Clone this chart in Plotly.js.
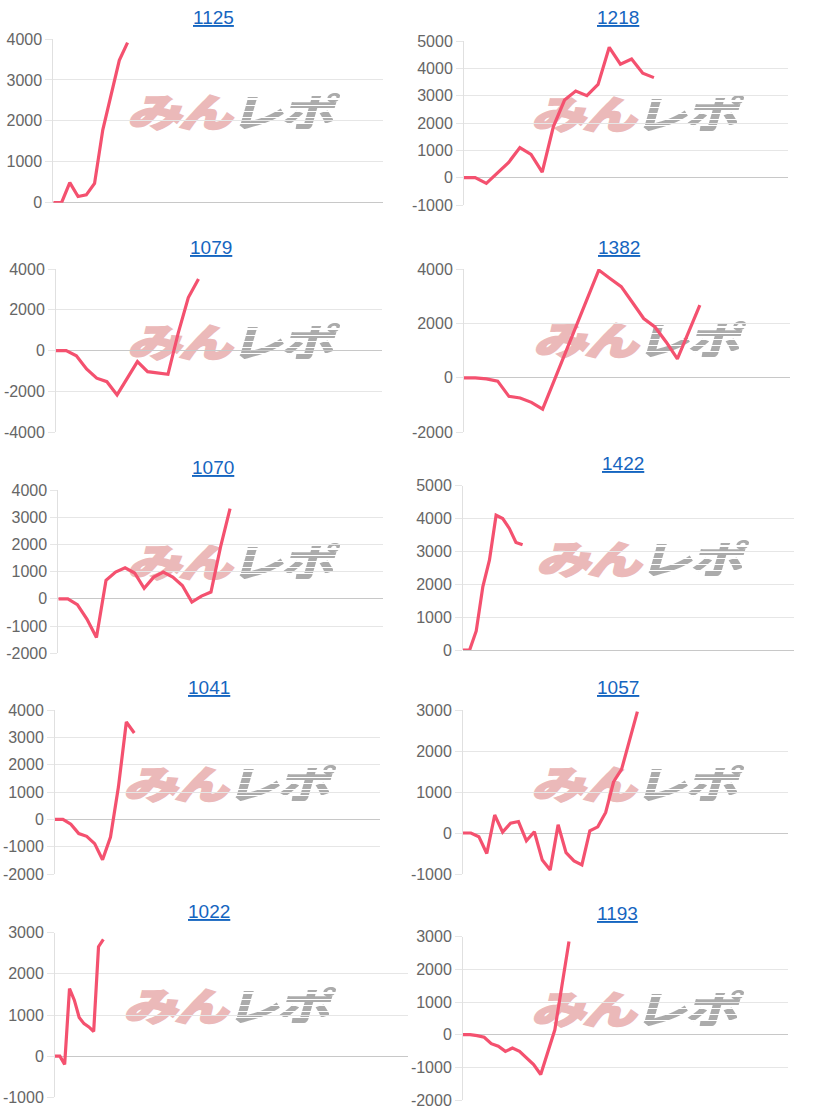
<!DOCTYPE html>
<html><head><meta charset="utf-8">
<script src="https://cdn.plot.ly/plotly-3.0.1.min.js"></script>
<style>
html,body{margin:0;padding:0;background:#fff;}
#wrap{position:relative;width:816px;height:1115px;overflow:hidden;}
#chart{position:absolute;left:0;top:0;width:816px;height:1115px;z-index:1;}
.wm{position:absolute;z-index:0;white-space:nowrap;font-family:'Noto Sans CJK JP';font-weight:900;font-size:54px;line-height:1;transform:translate(-50%,-50%) skewX(-16deg) scaleY(0.72);letter-spacing:-3px;}
.wm .p{color:#ebb9b9;-webkit-text-stroke:2.5px #ebb9b9;}
.wm .g{margin-left:0px;color:transparent;
  background:repeating-linear-gradient(to bottom,#ababab 0px,#ababab 7px,rgba(255,255,255,0) 7px,rgba(255,255,255,0) 8.5px);
  -webkit-background-clip:text;background-clip:text;}
</style></head>
<body>
<div id="wrap"><div id="chart"></div></div>
<script>
// ---- data ----
const titles = ['1125','1218','1079','1382','1070','1422','1041','1057','1022','1193'];

const s1125 = [0, 0, 490, 150, 190, 470, 1780, 2670, 3480, 3910];
const s1218 = [0, 0, -210, 180, 560, 1100, 850, 200, 1870, 2840, 3170, 3000, 3410, 4770, 4150, 4340, 3820, 3660];
const s1079 = [0, 0, -250, -900, -1350, -1520, -2170, -1350, -540, -1030, -1080, -1160, 850, 2600, 3510];
const s1382 = [0, 0, -40, -120, -680, -740, -900, -1150, -130, 890, 1910, 2930, 3960, 3650, 3350, 2770, 2180, 1870, 1320, 700, 1690, 2670];
const s1070 = [0, 0, -210, -740, -1420, 680, 985, 1140, 950, 390, 800, 985, 800, 490, -120, 100, 250, 1900, 3320];
const s1422 = [0, 0, 580, 1930, 2740, 4100, 4000, 3700, 3270, 3200];
const s1041 = [0, 0, -180, -520, -620, -890, -1480, -650, 1180, 3560, 3160];
const s1057 = [0, 0, -90, -500, 440, 20, 240, 280, -190, 30, -660, -900, 200, -480, -680, -780, 50, 150, 500, 1250, 1550, 2270, 2960];
const s1022 = [0, 0, -200, 1640, 1360, 940, 790, 710, 600, 2660, 2840];
const s1193 = [0, 0, -30, -80, -275, -355, -510, -410, -510, -710, -915, -1220, -550, 150, 1500, 2850];

// number of x slots on each chart's axis
const xSlots = [40, 29, 32, 29, 34, 50, 41, 41, 73, 46];

// y tick labels
const yt1125 = [0, 1000, 2000, 3000, 4000];
const yt1218 = [-1000, 0, 1000, 2000, 3000, 4000, 5000];
const yt1079 = [-4000, -2000, 0, 2000, 4000];
const yt1382 = [-2000, 0, 2000, 4000];
const yt1070 = [-2000, -1000, 0, 1000, 2000, 3000, 4000];
const yt1422 = [0, 1000, 2000, 3000, 4000, 5000];
const yt1041 = [-2000, -1000, 0, 1000, 2000, 3000, 4000];
const yt1057 = [-1000, 0, 1000, 2000, 3000];
const yt1022 = [-1000, 0, 1000, 2000, 3000];
const yt1193 = [-2000, -1000, 0, 1000, 2000, 3000];

const series = [s1125, s1218, s1079, s1382, s1070, s1422, s1041, s1057, s1022, s1193];
const yticks = [yt1125, yt1218, yt1079, yt1382, yt1070, yt1422, yt1041, yt1057, yt1022, yt1193];

// ---- layout (pixel boxes) ----
const W = 816, H = 1115;
const boxes = [
  [53.3, 383.3, 39, 202.7],
  [464, 788, 41, 205],
  [56, 381.7, 269, 432.3],
  [464, 789.7, 269, 432.3],
  [58.3, 382.7, 490, 653.3],
  [463, 794, 485.7, 650],
  [55, 380, 710, 874],
  [463, 788, 710, 874],
  [55, 408, 932.7, 1097.3],
  [463, 788, 936.7, 1100]
];
const titlePos = [[213,17],[618,17],[211,247],[619,247],[213,467],[623,463],[209.5,687],[617.5,687],[209.5,911],[617.5,914]];
const wmPos = [[234,110],[638,112],[234,340],[640,338],[234,560],[643,557],[230,782],[638,782],[230,1004],[638,1007]];

const wrap = document.getElementById('wrap');
wmPos.forEach(p => {
  const d = document.createElement('div');
  d.className = 'wm';
  d.style.left = p[0] + 'px';
  d.style.top = p[1] + 'px';
  d.innerHTML = '<span class="p">みん</span><span class="g">レポ</span>';
  wrap.insertBefore(d, wrap.firstChild);
});

const traces = [];
const layout = {
  width: W, height: H,
  margin: {l: 0, r: 0, t: 0, b: 0},
  paper_bgcolor: 'rgba(0,0,0,0)',
  plot_bgcolor: 'rgba(0,0,0,0)',
  showlegend: false,
  font: {family: 'Liberation Sans, Arial, sans-serif'},
  annotations: []
};

series.forEach((s, i) => {
  const n = i + 1;
  const b = boxes[i];
  traces.push({
    type: 'scatter', mode: 'lines',
    x: s.map((v, k) => k), y: s,
    xaxis: 'x' + n, yaxis: 'y' + n,
    line: {color: '#f4516f', width: 3.2},
    hoverinfo: 'skip'
  });
  const yt = yticks[i];
  layout['xaxis' + n] = {
    domain: [b[0] / W, b[1] / W], range: [0, xSlots[i]],
    showgrid: false, zeroline: false, showline: false, showticklabels: false, ticks: '',
    anchor: 'y' + n, fixedrange: true
  };
  layout['yaxis' + n] = {
    domain: [1 - b[3] / H, 1 - b[2] / H],
    range: [yt[0], yt[yt.length - 1]],
    tickvals: yt, ticktext: yt.map(String),
    showgrid: true, gridcolor: '#e6e6e6', gridwidth: 1,
    zeroline: true, zerolinecolor: '#c8c8c8', zerolinewidth: 1,
    showline: true, linecolor: '#e0e0e0', linewidth: 1,
    ticks: 'outside', ticklen: 7, tickcolor: '#e6e6e6',
    tickfont: {size: 16, color: '#666666', family: 'Liberation Sans, Arial, sans-serif'},
    anchor: 'x' + n, fixedrange: true
  };
  layout.annotations.push({
    text: '<u>' + titles[i] + '</u>',
    xref: 'paper', yref: 'paper',
    x: titlePos[i][0] / W, y: 1 - titlePos[i][1] / H,
    xanchor: 'center', yanchor: 'middle', showarrow: false,
    font: {size: 19, color: '#1565c0', family: 'Liberation Sans, Arial, sans-serif'}
  });
});

Plotly.newPlot('chart', traces, layout, {staticPlot: true, displayModeBar: false});
</script>
</body></html>
